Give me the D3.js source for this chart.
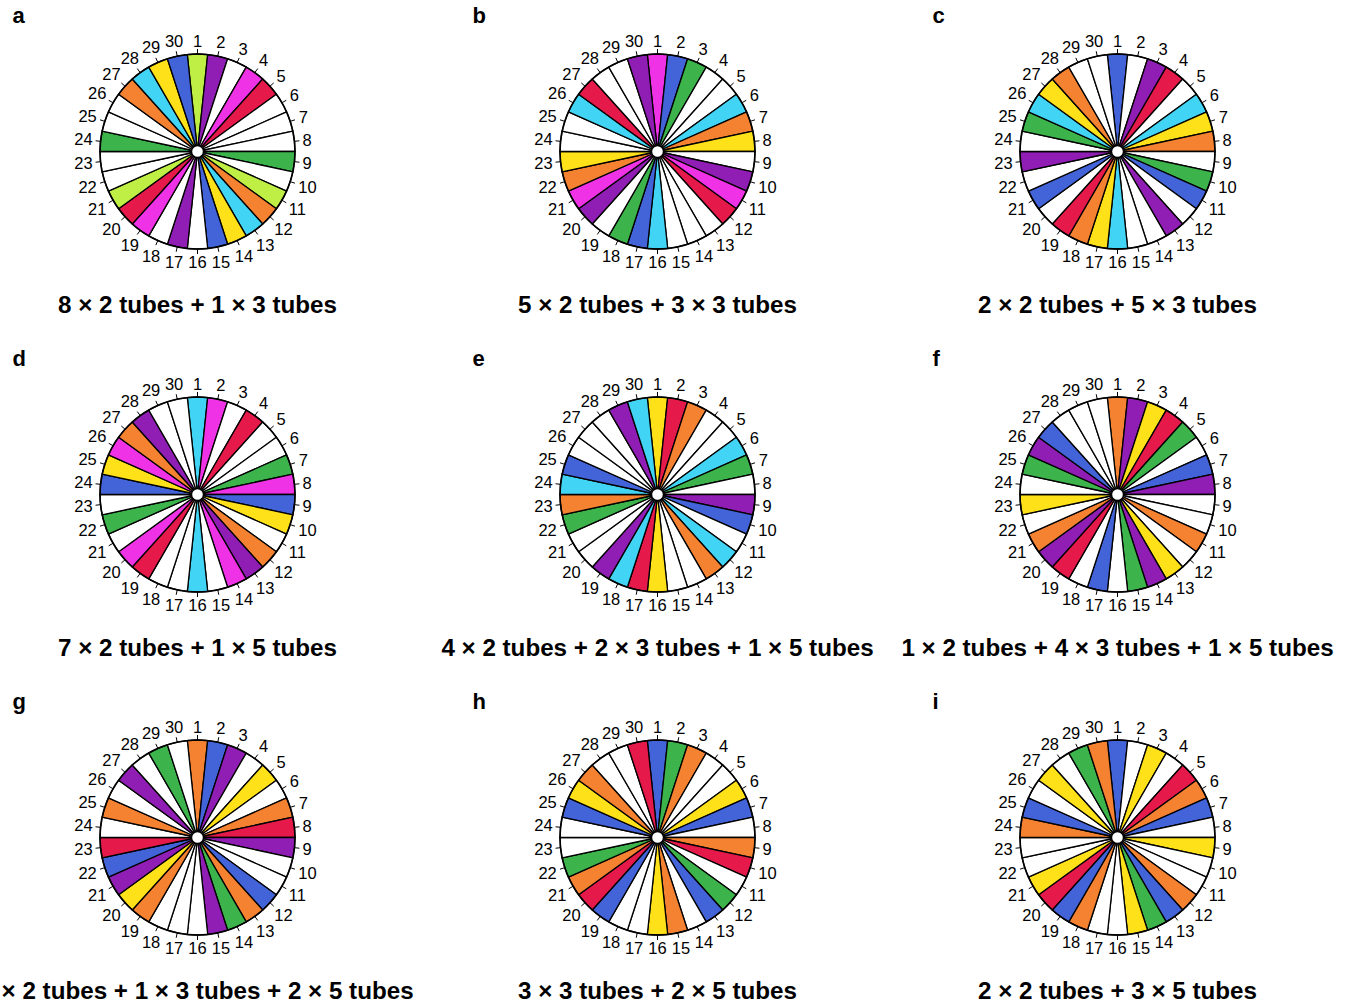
<!DOCTYPE html>
<html>
<head>
<meta charset="utf-8">
<script src="https://cdn.jsdelivr.net/npm/d3@7"></script>
<style>
  body { margin: 0; background: #fff; }
  svg { display: block; font-family: "Liberation Sans", Arial, Helvetica, sans-serif; }
</style>
</head>
<body>
<svg id="chart" width="1351" height="1004"></svg>
<script>
// colour codes: W = empty slot
var palette = {
    W: "#ffffff", L: "#bfef45", P: "#911eb4", M: "#f032e6", R: "#e6194b",
    G: "#3cb44b", O: "#f58231", C: "#42d4f4", Y: "#ffe119", B: "#4363d8"
};

var slotNumbers = d3.range(1, 31);

// slot 1 .. 30 of each rotor
var slotsA = ["L","P","W","M","R","W","W","W","G","W","L","O","C","Y","B","W","P","W","M","R","L","W","W","G","W","W","O","C","Y","B"];
var slotsB = ["M","B","G","W","W","C","O","Y","W","P","M","R","W","W","W","C","B","G","W","P","M","O","Y","W","W","C","R","W","W","P"];
var slotsC = ["B","W","P","R","W","C","Y","O","W","G","B","W","P","W","W","C","Y","O","R","W","B","W","P","W","G","C","Y","O","W","W"];
var slotsD = ["C","M","W","R","W","W","G","M","B","Y","W","O","P","M","W","C","W","W","R","M","W","G","W","B","Y","M","O","P","W","W"];
var slotsE = ["Y","R","O","W","W","C","G","W","P","B","W","C","O","W","W","Y","R","C","P","W","W","G","O","C","B","W","W","W","P","C"];
var slotsF = ["O","P","Y","R","G","W","B","P","W","W","O","W","Y","P","G","W","B","W","R","P","O","W","Y","W","G","P","B","W","W","W"];
var slotsG = ["O","B","P","W","Y","W","O","R","P","W","W","B","O","G","P","W","W","W","O","Y","P","B","R","W","O","W","P","W","G","W"];
var slotsH = ["B","G","O","W","W","Y","B","W","O","R","W","G","B","W","O","Y","W","W","B","R","O","G","W","W","B","Y","O","W","W","R"];
var slotsI = ["B","W","Y","W","R","O","B","W","Y","W","W","O","B","G","Y","W","W","O","B","R","Y","W","W","O","B","W","Y","W","G","O"];

var panelLetters = ["a","b","c","d","e","f","g","h","i"];
var panelTitles = [
    "8 × 2 tubes + 1 × 3 tubes",
    "5 × 2 tubes + 3 × 3 tubes",
    "2 × 2 tubes + 5 × 3 tubes",
    "7 × 2 tubes + 1 × 5 tubes",
    "4 × 2 tubes + 2 × 3 tubes + 1 × 5 tubes",
    "1 × 2 tubes + 4 × 3 tubes + 1 × 5 tubes",
    "3 × 2 tubes + 1 × 3 tubes + 2 × 5 tubes",
    "3 × 3 tubes + 2 × 5 tubes",
    "2 × 2 tubes + 3 × 5 tubes"
];
var panelSlots = [slotsA, slotsB, slotsC, slotsD, slotsE, slotsF, slotsG, slotsH, slotsI];

var svg = d3.select("#chart");

var R = 97.5, hubR = 6, labelSize = 16.5;
var colX = [197.5, 657.5, 1117.5];
var rowY = [151.5, 494.5, 837.5];

// slot k is centred on angle (k-1)*12deg, clockwise from the top
var angle = d3.scaleLinear().domain([0, 30]).range([0, 2 * Math.PI]);
var arc = d3.arc()
    .innerRadius(0)
    .outerRadius(R)
    .startAngle(function (d) { return angle(d.slot - 1.5); })
    .endAngle(function (d) { return angle(d.slot - 0.5); });

function draw_rotor(idx) {
    var cx = colX[idx % 3], cy = rowY[Math.floor(idx / 3)];
    var data = panelSlots[idx].map(function (c, i) { return { slot: i + 1, code: c }; });

    svg.append("text")
        .attr("x", cx - 185)
        .attr("y", cy - 129)
        .attr("font-size", 22)
        .attr("font-weight", "bold")
        .text(panelLetters[idx]);

    var g = svg.append("g").attr("transform", "translate(" + cx + "," + cy + ")");

    g.selectAll("path.slot").data(data).enter().append("path")
        .attr("class", "slot")
        .attr("d", arc)
        .attr("fill", function (d) { return palette[d.code]; })
        .attr("stroke", "#000")
        .attr("stroke-width", 1.3)
        .attr("stroke-linejoin", "round");

    g.append("circle").attr("r", R)
        .attr("fill", "none").attr("stroke", "#000").attr("stroke-width", 1.6);

    g.append("circle").attr("r", hubR)
        .attr("fill", "#fff").attr("stroke", "#000").attr("stroke-width", 1.4);

    // ticks
    g.selectAll("line.tick").data(slotNumbers).enter().append("line")
        .attr("class", "tick")
        .attr("x1", function (d) { return R * Math.sin(angle(d - 1)); })
        .attr("y1", function (d) { return -R * Math.cos(angle(d - 1)); })
        .attr("x2", function (d) { return (R + 5) * Math.sin(angle(d - 1)); })
        .attr("y2", function (d) { return -(R + 5) * Math.cos(angle(d - 1)); })
        .attr("stroke", "#000")
        .attr("stroke-width", 1);

    // slot numbers
    g.selectAll("text.num").data(slotNumbers).enter().append("text")
        .attr("class", "num")
        .attr("font-size", labelSize)
        .attr("text-anchor", "middle")
        .text(function (d) { return d; })
        .each(function (d) {
            var a = angle(d - 1);
            var w = this.getComputedTextLength();
            var h = labelSize * 0.716;
            var r = R + 7.5 + Math.abs(Math.sin(a)) * w / 2 + Math.abs(Math.cos(a)) * h / 2;
            d3.select(this)
                .attr("x", r * Math.sin(a))
                .attr("y", -r * Math.cos(a) + h / 2);
        });

    svg.append("text")
        .attr("x", cx)
        .attr("y", cy + 161)
        .attr("text-anchor", "middle")
        .attr("font-size", 24.2)
        .attr("font-weight", "bold")
        .text(panelTitles[idx]);
}

for (var p = 0; p < panelSlots.length; p++) {
    draw_rotor(p);
}
</script>
</body>
</html>
